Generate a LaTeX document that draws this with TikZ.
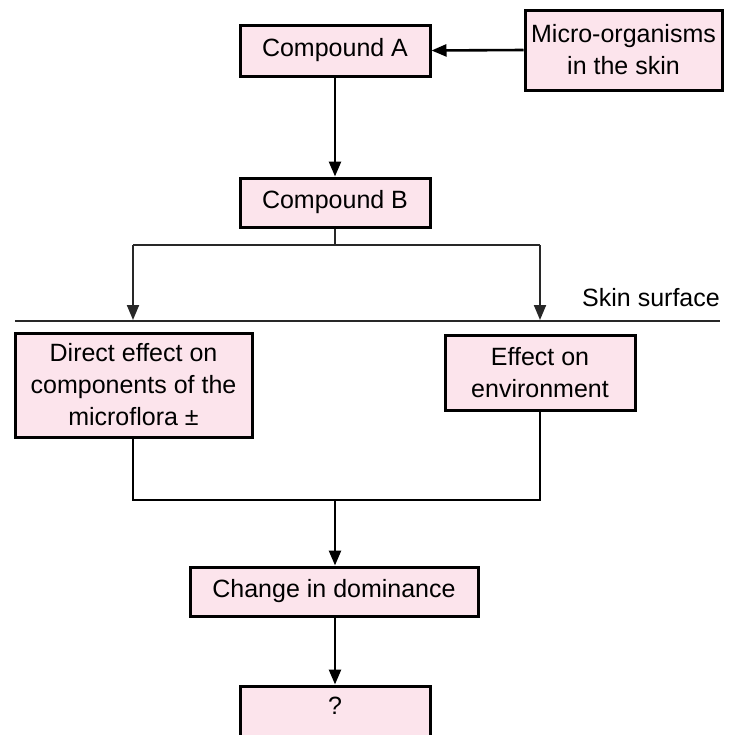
\documentclass[tikz,border=0pt]{standalone}
\usepackage{fontspec}
\setmainfont{Liberation Sans}
\usetikzlibrary{arrows.meta}
\definecolor{boxpink}{RGB}{252,228,236}
\definecolor{linegray}{RGB}{40,40,40}
\tikzset{
  box/.style={draw=black, line width=3pt, fill=boxpink, inner sep=0pt, align=center,
    font=\fontsize{25}{32}\selectfont},
  arr/.style={line width=2.6pt, -{Triangle[length=15pt,width=12pt]}},
  thinarr/.style={draw=linegray, line width=2pt, -{Triangle[length=15pt,width=12pt]}},
  plain/.style={line width=2.6pt},
  thinline/.style={draw=linegray, line width=2pt},
  lbl/.style={inner sep=0pt, font=\fontsize{25}{32}\selectfont}
}
\begin{document}
\begin{tikzpicture}[x=1pt, y=-1pt]
\useasboundingbox (0,0) rectangle (750,734);
\clip (0,0) rectangle (750,734);
\node[box, minimum width=190pt, minimum height=51pt] (ca) at (335,50.5) {Compound A};
\node[box, minimum width=197pt, minimum height=80pt] (mo) at (623.5,50) {Micro-organisms\\in the skin};
\node[box, minimum width=190pt, minimum height=49pt] (cb) at (335,202.5) {Compound B};
\node[box, minimum width=237pt, minimum height=104pt] (de) at (133.5,385) {Direct effect on\\components of the\\microflora \textpm};
\node[box, minimum width=190pt, minimum height=75pt] (env) at (540,372.5) {Effect on\\environment};
\node[box, minimum width=288pt, minimum height=49pt] (ch) at (334,591.5) {Change in dominance};
\node[box, minimum width=190pt, minimum height=54pt, text depth=0pt] (q) at (335,713) {};
\node[lbl] (qt) at (335,706) {?};
\node[lbl, anchor=east] (ss) at (720,298) {Skin surface};
% skin line
\coordinate (s1) at (15,321);
\coordinate (s2) at (720,321);
\draw[thinline] (s1) -- (s2);
% connectors
\draw[arr] (mo.west) -- (ca.east);
\draw[arr] (ca.south) -- (cb.north);
\coordinate (bm) at (335,245);
\coordinate (bl) at (133,245);
\coordinate (brt) at (540,245);
\coordinate (al) at (133,320);
\coordinate (ar) at (540,320);
\draw[thinline] (cb.south) -- (bm);
\draw[thinline] (bl) -- (brt);
\draw[thinarr] (bl) -- (al);
\draw[thinarr] (brt) -- (ar);
\coordinate (jl) at (133,500);
\coordinate (jr) at (540,500);
\coordinate (jm) at (335,500);
\draw[plain] (de.south -| jl) -- (jl) -- (jr) -- (env.south -| jr);
\draw[arr] (jm) -- (ch.north -| jm);
\draw[arr] (ch.south -| jm) -- (q.north -| jm);
\end{tikzpicture}
\end{document}
